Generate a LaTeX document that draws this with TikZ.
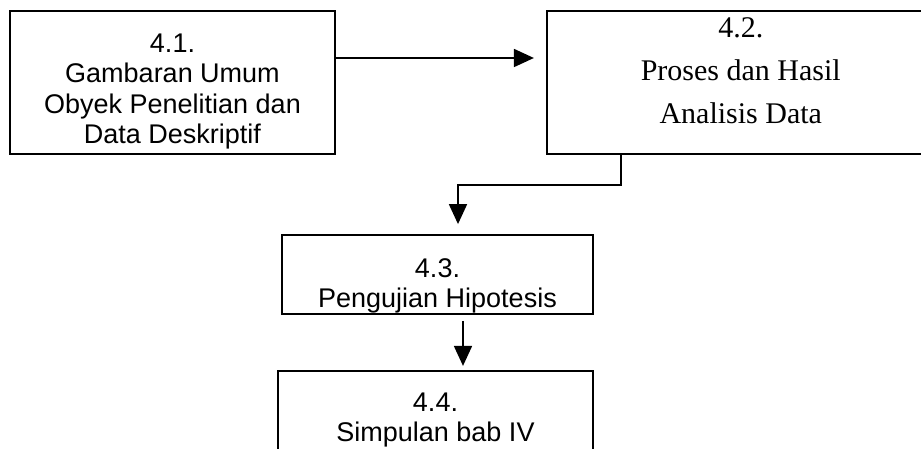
\documentclass[tikz,border=0pt]{standalone}
\usepackage{fontspec}
\setmainfont{Liberation Sans}
\newfontfamily\timesfont{Liberation Serif}
\usetikzlibrary{positioning,arrows.meta}

\begin{document}
\begin{tikzpicture}[>={Triangle[length=20pt,width=18pt]},line width=1.8pt,
    box/.style={rectangle,draw,align=center,inner sep=0pt,font=\fontsize{27}{30.5}\selectfont}]

            \useasboundingbox (0,0) rectangle (921pt,-449pt);

            \node[box,minimum width=325pt,minimum height=143pt] (b1) at (172.5pt,-82.5pt)
                {\rule{0pt}{36.2pt}4.1.\\Gambaran Umum\\Obyek Penelitian dan\\Data Deskriptif};
            \node[box,font=\timesfont\fontsize{30}{43}\selectfont,minimum width=388pt,minimum height=143pt] (b2) [right=210pt of b1.north east,anchor=north west]
                {4.2.\\Proses dan Hasil\\Analisis Data\rule[-23.3pt]{0pt}{0pt}};
            \node[box,font=\fontsize{27}{30}\selectfont,minimum width=311pt,minimum height=79pt] (b3) at (437.5pt,-274.5pt)
                {\rule{0pt}{40.7pt}4.3.\\Pengujian Hipotesis};
            \node[box,font=\fontsize{27}{30}\selectfont,minimum width=315pt,minimum height=83pt] (b4) [below=55pt of b3.south east,anchor=north east]
                {\rule{0pt}{34.7pt}4.4.\\Simpulan bab IV};

            \draw[->,shorten >=12pt] ([yshift=24.5pt]b1.east) to ([yshift=24.5pt]b2.west);
            \draw[->,shorten >=10pt] ([xshift=-120pt]b2.south) -- ++(0,-30pt) -| ([xshift=20.5pt]b3.north);
            \draw[->,shorten <=6pt,shorten >=4pt] ([xshift=25.5pt]b3.south) to ([xshift=25.5pt]b3.south |- b4.north);

            ;
        \end{tikzpicture}
\end{document}
